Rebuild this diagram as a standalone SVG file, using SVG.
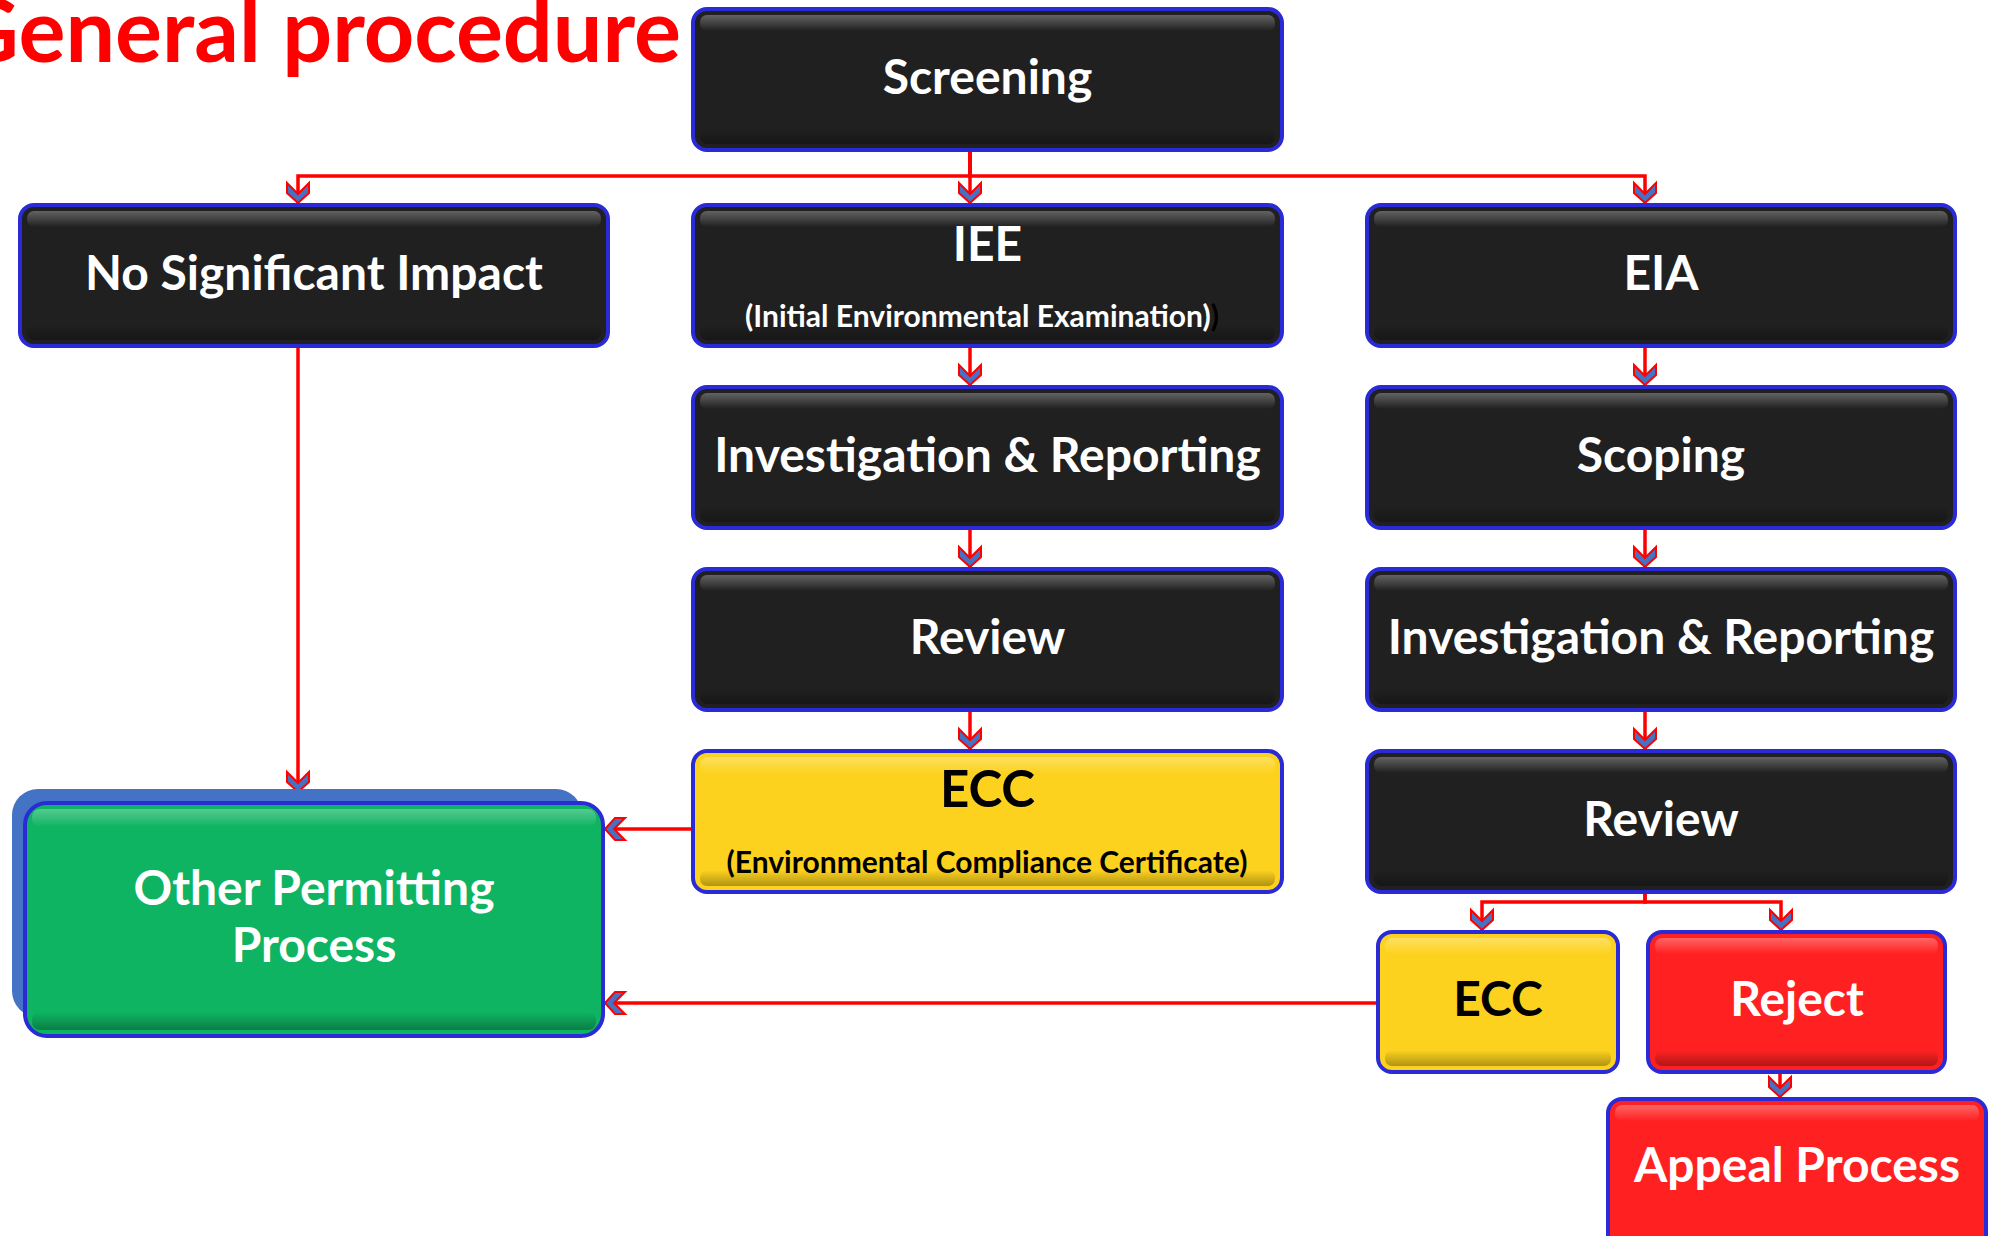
<svg xmlns="http://www.w3.org/2000/svg" width="1995" height="1236" viewBox="0 0 1995 1236">
<style>
.frame{stroke:#2a2ad6;stroke-width:4}
.dark{fill:#202020}
.yellow{fill:#FDD21E}
.red{fill:#FF2121}
.green{fill:#0EB462}
.lbl{font-family:Lato,"Liberation Sans",sans-serif;font-weight:700;text-anchor:middle}
.w{fill:#FFFFFF}
.k{fill:#000000}
.main{font-size:48px}
.sub{font-size:30px}
.conn{fill:none;stroke:#FF0000;stroke-width:3.5;marker-end:url(#ah)}
.title{font-family:Lato,"Liberation Sans",sans-serif;font-weight:700;font-size:88px;fill:#FF0000;text-anchor:end}
</style>
<defs>
<linearGradient id="hl" x1="0" y1="0" x2="0" y2="1">
<stop offset="0" stop-color="#FFFFFF" stop-opacity="0.3"/>
<stop offset="1" stop-color="#FFFFFF" stop-opacity="0"/>
</linearGradient>
<linearGradient id="sh" x1="0" y1="0" x2="0" y2="1">
<stop offset="0" stop-color="#000000" stop-opacity="0"/>
<stop offset="1" stop-color="#000000" stop-opacity="0.3"/>
</linearGradient>
<marker id="ah" viewBox="-23 -14 26 28" refX="0" refY="0" markerWidth="26" markerHeight="28" markerUnits="userSpaceOnUse" orient="auto">
<path d="M-20,-11 L-10,-11 L0,0 L-10,11 L-20,11 L-9,0 Z" fill="#4472C4" stroke="#FF0000" stroke-width="2"/>
</marker>
</defs>

<text class="title" x="681" y="62">General procedure</text>

<g id="connectors">
<path class="conn" d="M970,150 V176 H298 V203"/>
<path class="conn" d="M970,150 V203"/>
<path class="conn" d="M970,150 V176 H1645 V203"/>
<path class="conn" d="M970,346 V385"/>
<path class="conn" d="M970,528 V567"/>
<path class="conn" d="M970,710 V749"/>
<path class="conn" d="M1645,346 V385"/>
<path class="conn" d="M1645,528 V567"/>
<path class="conn" d="M1645,710 V749"/>
<path class="conn" d="M1645,892 V902 H1482 V930"/>
<path class="conn" d="M1645,892 V902 H1781 V930"/>
<path class="conn" d="M1780,1072 V1097"/>
<path class="conn" d="M298,346 V792"/>
<path class="conn" d="M693,829 H605"/>
<path class="conn" d="M1378,1003 H605"/>
</g>

<g id="screening">
<rect class="frame dark" x="693" y="9" width="589" height="141" rx="14"/>
<rect x="700" y="15" width="575" height="16" rx="7" fill="url(#hl)"/>
<rect x="700" y="128" width="575" height="16" rx="7" fill="url(#sh)"/>
<text class="lbl w main" x="987.5" y="94">Screening</text>
</g>

<g id="no-significant-impact">
<rect class="frame dark" x="20" y="205" width="588" height="141" rx="14"/>
<rect x="27" y="211" width="574" height="16" rx="7" fill="url(#hl)"/>
<rect x="27" y="324" width="574" height="16" rx="7" fill="url(#sh)"/>
<text class="lbl w main" x="314" y="290">No Significant Impact</text>
</g>

<g id="iee">
<rect class="frame dark" x="693" y="205" width="589" height="141" rx="14"/>
<rect x="700" y="211" width="575" height="16" rx="7" fill="url(#hl)"/>
<rect x="700" y="324" width="575" height="16" rx="7" fill="url(#sh)"/>
<text class="lbl w main" x="987.5" y="261">IEE</text>
<text class="lbl w sub" x="982" y="327">(Initial Environmental Examination)<tspan class="k">)</tspan></text>
</g>

<g id="eia">
<rect class="frame dark" x="1367" y="205" width="588" height="141" rx="14"/>
<rect x="1374" y="211" width="574" height="16" rx="7" fill="url(#hl)"/>
<rect x="1374" y="324" width="574" height="16" rx="7" fill="url(#sh)"/>
<text class="lbl w main" x="1661" y="290">EIA</text>
</g>

<g id="iee-investigation">
<rect class="frame dark" x="693" y="387" width="589" height="141" rx="14"/>
<rect x="700" y="393" width="575" height="16" rx="7" fill="url(#hl)"/>
<rect x="700" y="506" width="575" height="16" rx="7" fill="url(#sh)"/>
<text class="lbl w main" x="987.5" y="472">Investigation &amp; Reporting</text>
</g>

<g id="scoping">
<rect class="frame dark" x="1367" y="387" width="588" height="141" rx="14"/>
<rect x="1374" y="393" width="574" height="16" rx="7" fill="url(#hl)"/>
<rect x="1374" y="506" width="574" height="16" rx="7" fill="url(#sh)"/>
<text class="lbl w main" x="1661" y="472">Scoping</text>
</g>

<g id="iee-review">
<rect class="frame dark" x="693" y="569" width="589" height="141" rx="14"/>
<rect x="700" y="575" width="575" height="16" rx="7" fill="url(#hl)"/>
<rect x="700" y="688" width="575" height="16" rx="7" fill="url(#sh)"/>
<text class="lbl w main" x="987.5" y="654">Review</text>
</g>

<g id="eia-investigation">
<rect class="frame dark" x="1367" y="569" width="588" height="141" rx="14"/>
<rect x="1374" y="575" width="574" height="16" rx="7" fill="url(#hl)"/>
<rect x="1374" y="688" width="574" height="16" rx="7" fill="url(#sh)"/>
<text class="lbl w main" x="1661" y="654">Investigation &amp; Reporting</text>
</g>

<g id="iee-ecc">
<rect class="frame yellow" x="693" y="751" width="589" height="141" rx="14"/>
<rect x="700" y="757" width="575" height="16" rx="7" fill="url(#hl)"/>
<rect x="700" y="870" width="575" height="16" rx="7" fill="url(#sh)"/>
<text class="lbl k" style="font-size:51px" x="987.5" y="807">ECC</text>
<text class="lbl k sub" x="987" y="873">(Environmental Compliance Certificate)</text>
</g>

<g id="eia-review">
<rect class="frame dark" x="1367" y="751" width="588" height="141" rx="14"/>
<rect x="1374" y="757" width="574" height="16" rx="7" fill="url(#hl)"/>
<rect x="1374" y="870" width="574" height="16" rx="7" fill="url(#sh)"/>
<text class="lbl w main" x="1661" y="836">Review</text>
</g>

<g id="eia-ecc">
<rect class="frame yellow" x="1378" y="932" width="240" height="140" rx="14"/>
<rect x="1385" y="938" width="226" height="16" rx="7" fill="url(#hl)"/>
<rect x="1385" y="1050" width="226" height="16" rx="7" fill="url(#sh)"/>
<text class="lbl k main" x="1498" y="1016">ECC</text>
</g>

<g id="reject">
<rect class="frame red" x="1648" y="932" width="297" height="140" rx="14"/>
<rect x="1655" y="938" width="283" height="16" rx="7" fill="url(#hl)"/>
<rect x="1655" y="1050" width="283" height="16" rx="7" fill="url(#sh)"/>
<text class="lbl w main" x="1797" y="1016">Reject</text>
</g>

<g id="appeal-process">
<rect class="frame red" x="1608" y="1099" width="378" height="150" rx="14"/>
<rect x="1615" y="1105" width="364" height="16" rx="7" fill="url(#hl)"/>
<text class="lbl w main" x="1797" y="1182">Appeal Process</text>
</g>

<g id="other-permitting">
<rect x="12" y="789" width="570" height="228" rx="26" fill="#4472C4"/>
<rect class="frame green" x="25" y="803" width="578" height="233" rx="22"/>
<rect x="32" y="809" width="564" height="18" rx="8" fill="url(#hl)"/>
<rect x="32" y="1012" width="564" height="18" rx="8" fill="url(#sh)"/>
<text class="lbl w main" x="314" y="905">Other Permitting</text>
<text class="lbl w main" x="314" y="962">Process</text>
</g>
</svg>
